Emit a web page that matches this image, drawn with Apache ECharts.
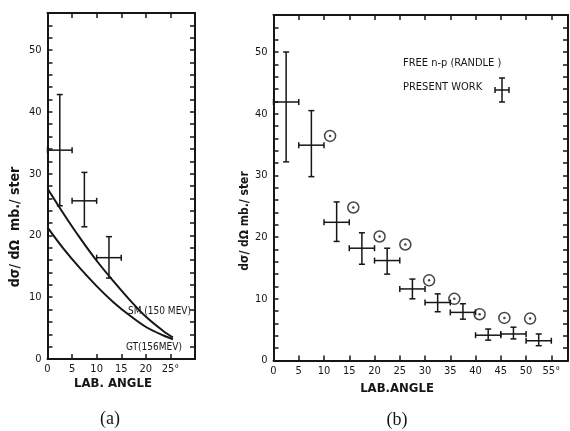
<!DOCTYPE html>
<html>
<head>
<meta charset="utf-8">
<script src="https://cdn.jsdelivr.net/npm/echarts@6.0.0/dist/echarts.min.js"></script>
<style>
html, body { margin: 0; padding: 0; background: #fff; }
#chart { width: 570px; height: 431px; }
</style>
</head>
<body>
<div id="chart"></div>
<script>
// panel (a): present work, three angle bins
var anglesA = [2.5, 7.5, 12.5];
var binLoA = [0, 5, 10];
var binHiA = [5, 10, 15];
var valuesA = [33.8, 25.6, 16.4];
var errLoA = [24.8, 21.4, 13.1];
var errHiA = [42.8, 30.2, 19.8];

// panel (a): theory curves
var curveAngles = [0, 3.2, 6.6, 10, 13.4, 16.8, 20.2, 23.6, 25.5];
var smValues = [27.6, 23.6, 19.6, 15.9, 12.6, 9.5, 6.7, 4.5, 3.5];
var gtValues = [21.3, 17.9, 14.7, 11.8, 9.2, 7.0, 5.1, 3.8, 3.2];

// panel (b): present work
var anglesB = [2.5, 7.5, 12.5, 17.5, 22.5, 27.5, 32.5, 37.5, 42.5, 47.5, 52.5];
var binLoB = [0, 5, 10, 15, 20, 25, 30, 35, 40, 45, 50];
var binHiB = [5, 10, 15, 20, 25, 30, 35, 40, 45, 50, 55];
var valuesB = [41.9, 34.9, 22.4, 18.2, 16.2, 11.6, 9.4, 7.8, 4.1, 4.3, 3.2];
var errLoB = [32.2, 29.8, 19.3, 15.6, 14.0, 10.0, 7.9, 6.7, 3.3, 3.5, 2.4];
var errHiB = [50.0, 40.5, 25.7, 20.7, 18.2, 13.2, 10.8, 9.2, 5.1, 5.4, 4.3];

// panel (b): free n-p (Randle)
var randleAngles = [11.2, 15.8, 21.0, 26.1, 30.8, 35.8, 40.8, 45.7, 50.8];
var randleValues = [36.4, 24.8, 20.1, 18.8, 13.0, 10.0, 7.5, 6.9, 6.8];

var yTicks = [0, 10, 20, 30, 40, 50];

var ink = '#161616';
var tickFont = 'DejaVu Sans Condensed';

function rows(x, y, xl, xh, yl, yh) {
  var out = [];
  for (var i = 0; i < x.length; i++) out.push([x[i], y[i], xl[i], xh[i], yl[i], yh[i]]);
  return out;
}
function pairs(x, y) {
  var out = [];
  for (var i = 0; i < x.length; i++) out.push([x[i], y[i]]);
  return out;
}

function crossItem(params, api) {
  var x = api.value(0), y = api.value(1);
  var c = api.coord([x, y]);
  var l = api.coord([api.value(2), y]);
  var r = api.coord([api.value(3), y]);
  var b = api.coord([x, api.value(4)]);
  var t = api.coord([x, api.value(5)]);
  var cap = 3;
  var st = { stroke: ink, lineWidth: 1.5 };
  return {
    type: 'group',
    children: [
      { type: 'line', shape: { x1: l[0], y1: c[1], x2: r[0], y2: c[1] }, style: st },
      { type: 'line', shape: { x1: c[0], y1: t[1], x2: c[0], y2: b[1] }, style: st },
      { type: 'line', shape: { x1: l[0], y1: c[1] - cap, x2: l[0], y2: c[1] + cap }, style: st },
      { type: 'line', shape: { x1: r[0], y1: c[1] - cap, x2: r[0], y2: c[1] + cap }, style: st },
      { type: 'line', shape: { x1: c[0] - cap, y1: t[1], x2: c[0] + cap, y2: t[1] }, style: st },
      { type: 'line', shape: { x1: c[0] - cap, y1: b[1], x2: c[0] + cap, y2: b[1] }, style: st }
    ]
  };
}

function xAxisPair(grid, xMax, lastLabel) {
  var base = {
    gridIndex: grid, type: 'value', min: 0, max: xMax, interval: 5,
    axisLine: { onZero: false, lineStyle: { color: ink, width: 2 } },
    axisTick: { inside: true, length: 5, lineStyle: { color: ink, width: 1.5 } },
    splitLine: { show: false }
  };
  var bottom = Object.assign({}, base, {
    position: 'bottom',
    axisLabel: {
      color: ink, fontFamily: tickFont, fontSize: 11, margin: 5, showMaxLabel: true,
      formatter: function (v) {
        if (v > lastLabel) return '';
        return v === lastLabel ? v + '°' : String(v);
      }
    }
  });
  var top = Object.assign({}, base, { position: 'top', axisLabel: { show: false } });
  return [bottom, top];
}

function yAxisPair(grid) {
  var base = {
    gridIndex: grid, type: 'value', min: 0, max: 56, interval: 2,
    axisLine: { onZero: false, lineStyle: { color: ink, width: 2 } },
    axisTick: { inside: true, length: 5, lineStyle: { color: ink, width: 1.5 } },
    splitLine: { show: false }
  };
  var left = Object.assign({}, base, {
    position: 'left',
    axisLabel: {
      color: ink, fontFamily: tickFont, fontSize: 11, margin: 6,
      formatter: function (v) { return yTicks.indexOf(v) >= 0 ? String(v) : ''; }
    }
  });
  var right = Object.assign({}, base, { position: 'right', axisLabel: { show: false } });
  return [left, right];
}

var xa = xAxisPair(0, 30, 25);
var xb = xAxisPair(1, 58.3, 55);
var ya = yAxisPair(0);
var yb = yAxisPair(1);

var chart = echarts.init(document.getElementById('chart'), null, { renderer: 'canvas' });

chart.setOption({
  backgroundColor: '#fff',
  animation: false,
  grid: [
    { left: 47.5, top: 13, width: 147.5, height: 346, outerBoundsMode: 'none', containLabel: false },
    { left: 273.5, top: 15, width: 294.5, height: 345.5, outerBoundsMode: 'none', containLabel: false }
  ],
  xAxis: [xa[0], xa[1], xb[0], xb[1]],
  yAxis: [ya[0], ya[1], yb[0], yb[1]],
  series: [
    {
      name: 'SM (150 MEV)', type: 'line', xAxisIndex: 0, yAxisIndex: 0,
      data: pairs(curveAngles, smValues), smooth: 0.3, showSymbol: false,
      lineStyle: { color: ink, width: 2 }
    },
    {
      name: 'GT(156MEV)', type: 'line', xAxisIndex: 0, yAxisIndex: 0,
      data: pairs(curveAngles, gtValues), smooth: 0.3, showSymbol: false,
      lineStyle: { color: ink, width: 2 }
    },
    {
      name: 'present work a', type: 'custom', xAxisIndex: 0, yAxisIndex: 0,
      renderItem: crossItem, encode: { x: [0, 2, 3], y: [1, 4, 5] },
      data: rows(anglesA, valuesA, binLoA, binHiA, errLoA, errHiA)
    },
    {
      name: 'present work b', type: 'custom', xAxisIndex: 2, yAxisIndex: 2,
      renderItem: crossItem, encode: { x: [0, 2, 3], y: [1, 4, 5] },
      data: rows(anglesB, valuesB, binLoB, binHiB, errLoB, errHiB)
    },
    {
      name: 'FREE n-p (RANDLE)', type: 'scatter', xAxisIndex: 2, yAxisIndex: 2,
      data: pairs(randleAngles, randleValues), symbol: 'circle', symbolSize: 11,
      itemStyle: { color: 'rgba(0,0,0,0)', borderColor: ink, borderWidth: 1.5 }
    },
    {
      name: 'FREE n-p centre', type: 'scatter', xAxisIndex: 2, yAxisIndex: 2,
      data: pairs(randleAngles, randleValues), symbol: 'circle', symbolSize: 2.5,
      itemStyle: { color: ink }
    }
  ],
  graphic: [
    { type: 'text', x: 15, y: 227, rotation: Math.PI / 2,
      style: { text: 'dσ/ dΩ  mb./ ster', font: 'bold 14px "DejaVu Sans Condensed"', fill: ink, textAlign: 'center', textVerticalAlign: 'middle' } },
    { type: 'text', x: 128, y: 311,
      style: { text: 'SM (150 MEV)', font: '10px "DejaVu Sans Condensed"', fill: ink, textVerticalAlign: 'middle' } },
    { type: 'text', x: 126, y: 347,
      style: { text: 'GT(156MEV)', font: '10px "DejaVu Sans Condensed"', fill: ink, textVerticalAlign: 'middle' } },
    { type: 'text', x: 113, y: 384,
      style: { text: 'LAB. ANGLE', font: 'bold 13px "DejaVu Sans Condensed"', fill: ink, textAlign: 'center', textVerticalAlign: 'middle' } },
    { type: 'text', x: 110, y: 419,
      style: { text: '(a)', font: '18px "Liberation Serif"', fill: ink, textAlign: 'center', textVerticalAlign: 'middle' } },
    { type: 'text', x: 245, y: 221, rotation: Math.PI / 2,
      style: { text: 'dσ/ dΩ mb./ ster', font: 'bold 12px "DejaVu Sans Condensed"', fill: ink, textAlign: 'center', textVerticalAlign: 'middle' } },
    { type: 'text', x: 397, y: 389,
      style: { text: 'LAB.ANGLE', font: 'bold 13px "DejaVu Sans Condensed"', fill: ink, textAlign: 'center', textVerticalAlign: 'middle' } },
    { type: 'text', x: 397, y: 420,
      style: { text: '(b)', font: '18px "Liberation Serif"', fill: ink, textAlign: 'center', textVerticalAlign: 'middle' } },
    { type: 'text', x: 403, y: 63,
      style: { text: 'FREE n-p (RANDLE )', font: '11px "DejaVu Sans Condensed"', fill: ink, textVerticalAlign: 'middle' } },
    { type: 'text', x: 403, y: 87,
      style: { text: 'PRESENT WORK', font: '11px "DejaVu Sans Condensed"', fill: ink, textVerticalAlign: 'middle' } },
    { type: 'group', x: 502, y: 90, children: [
      { type: 'line', shape: { x1: -7, y1: 0, x2: 7, y2: 0 }, style: { stroke: ink, lineWidth: 1.5 } },
      { type: 'line', shape: { x1: 0, y1: -12, x2: 0, y2: 12 }, style: { stroke: ink, lineWidth: 1.5 } },
      { type: 'line', shape: { x1: -7, y1: -3, x2: -7, y2: 3 }, style: { stroke: ink, lineWidth: 1.5 } },
      { type: 'line', shape: { x1: 7, y1: -3, x2: 7, y2: 3 }, style: { stroke: ink, lineWidth: 1.5 } },
      { type: 'line', shape: { x1: -3, y1: -12, x2: 3, y2: -12 }, style: { stroke: ink, lineWidth: 1.5 } },
      { type: 'line', shape: { x1: -3, y1: 12, x2: 3, y2: 12 }, style: { stroke: ink, lineWidth: 1.5 } }
    ] }
  ]
});
</script>
</body>
</html>
